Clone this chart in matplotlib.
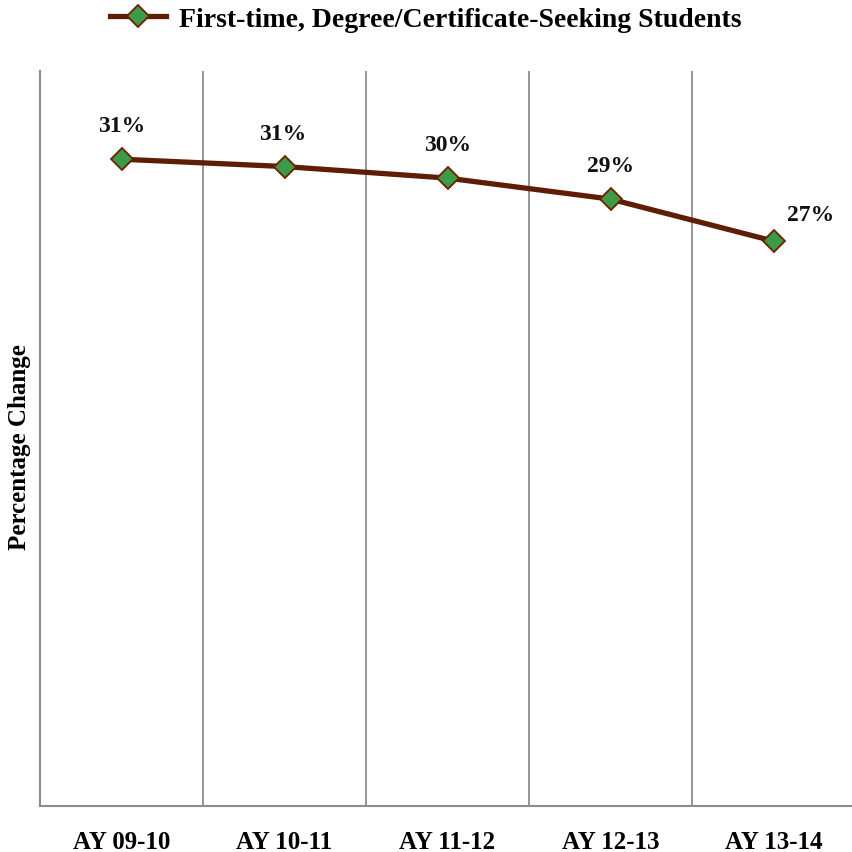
import matplotlib
matplotlib.use("Agg")
import matplotlib.pyplot as plt

categories = ["AY 09-10", "AY 10-11", "AY 11-12", "AY 12-13", "AY 13-14"]
values = [0.308, 0.3045, 0.299, 0.289, 0.269]
labels = ["31%", "31%", "30%", "29%", "27%"]
series_name = "First-time, Degree/Certificate-Seeking Students"

plt.rcParams['font.family'] = ['Liberation Serif', 'DejaVu Serif']

fig = plt.figure(figsize=(8.52, 8.53), dpi=100)
ax = fig.add_axes([40/852, 46/853, 815/852, 735/853])

x = list(range(len(categories)))
line_color = "#5E1D05"
ax.plot(x, values, color=line_color, lw=3.8, marker="D", markersize=11,
        markerfacecolor="#3D9B47", markeredgecolor="#6B2000", markeredgewidth=1.3,
        label=series_name, zorder=3)

offsets = [(0, 24), (-1, 24), (0, 24), (0, 24), (27, 19)]
for xi, v, lab, off in zip(x, values, labels, offsets):
    ax.annotate(lab, (xi, v), xytext=off, textcoords="offset points",
                ha="center", va="center", fontsize=17, fontweight="bold", color="#111111")

ax.set_xlim(-0.5, len(categories) - 0.5)
ax.set_ylim(0, 0.35)
ax.set_xticks(x)
ax.set_xticklabels(categories, fontsize=18, fontweight="bold")
ax.grid(False)
ax.tick_params(axis="x", which="both", length=0, pad=17)
for xm in [i + 0.5 for i in range(len(categories) - 1)]:
    ax.axvline(xm, color="#8C8C8C", lw=1.3, zorder=1)
ax.set_yticks([])
for s in ["top", "right"]:
    ax.spines[s].set_visible(False)
for s in ["left", "bottom"]:
    ax.spines[s].set_color("#8C8C8C")
    ax.spines[s].set_linewidth(1.5)

ax.set_ylabel("Percentage Change", fontsize=18, fontweight="bold")
ax.yaxis.set_label_coords(-9/815, 0.49)

leg = fig.legend(loc="center", bbox_to_anchor=(0.5, 1 - 20/853), frameon=False,
                 prop={"size": 20, "weight": "bold"}, handlelength=2.0, handletextpad=0.5)

fig.savefig("out.png", dpi=100)
